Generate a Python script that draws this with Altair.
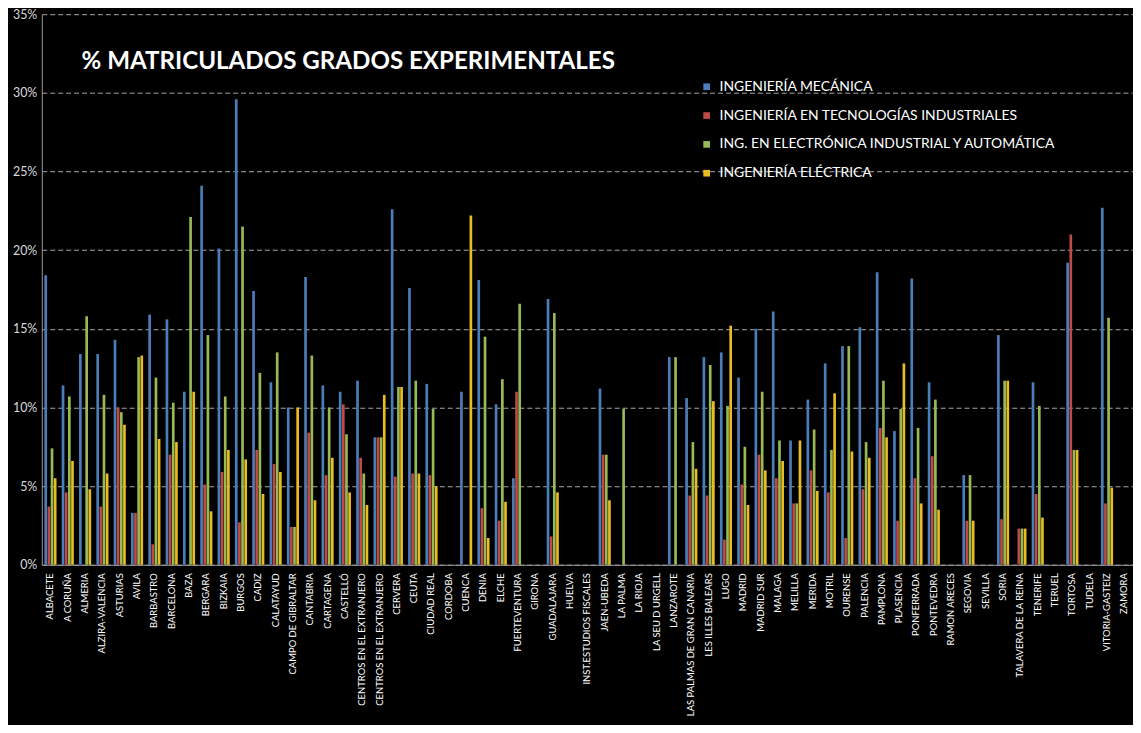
import json
import altair as alt
import pandas as pd

categories = [
    "ALBACETE", "A CORUÑA", "ALMERIA", "ALZIRA-VALENCIA", "ASTURIAS", "AVILA",
    "BARBASTRO", "BARCELONA", "BAZA", "BERGARA", "BIZKAIA", "BURGOS", "CADIZ",
    "CALATAYUD", "CAMPO DE GIBRALTAR", "CANTABRIA", "CARTAGENA", "CASTELLÓ",
    "CENTROS EN EL EXTRANJERO", "CENTROS EN EL EXTRANJERO", "CERVERA", "CEUTA",
    "CIUDAD REAL", "CORDOBA", "CUENCA", "DENIA", "ELCHE", "FUERTEVENTURA",
    "GIRONA", "GUADALAJARA", "HUELVA", "INST.ESTUDIOS FISCALES", "JAEN-UBEDA",
    "LA PALMA", "LA RIOJA", "LA SEU D URGELL", "LANZAROTE",
    "LAS PALMAS DE GRAN CANARIA", "LES ILLES  BALEARS", "LUGO", "MADRID",
    "MADRID SUR", "MALAGA", "MELILLA", "MERIDA", "MOTRIL", "OURENSE",
    "PALENCIA", "PAMPLONA", "PLASENCIA", "PONFERRADA", "PONTEVEDRA",
    "RAMON ARECES", "SEGOVIA", "SEVILLA", "SORIA", "TALAVERA DE LA REINA",
    "TENERIFE", "TERUEL", "TORTOSA", "TUDELA", "VITORIA-GASTEIZ", "ZAMORA",
]

series_names = [
    "INGENIERÍA MECÁNICA",
    "INGENIERÍA EN TECNOLOGÍAS INDUSTRIALES",
    "ING. EN  ELECTRÓNICA INDUSTRIAL Y AUTOMÁTICA",
    "INGENIERÍA ELÉCTRICA",
]

# values in percent
mecanica = [18.4, 11.4, 13.4, 13.4, 14.3, 3.3, 15.9, 15.6, 11.0, 24.1, 20.1, 29.6, 17.4,
            11.6, 10.0, 18.3, 11.4, 11.0, 11.7, 8.1, 22.6, 17.6, 11.5, 0, 11.0, 18.1,
            10.2, 5.5, 0, 16.9, 0, 0, 11.2, 0, 0, 0, 13.2, 10.6, 13.2, 13.5, 11.9,
            15.0, 16.1, 7.9, 10.5, 12.8, 13.9, 15.1, 18.6, 8.5, 18.2, 11.6, 0, 5.7,
            0, 14.6, 0, 11.6, 0, 19.2, 0, 22.7, 0]
tecnologias = [3.7, 4.6, 0, 3.7, 10.0, 3.3, 1.3, 7.0, 0, 5.1, 5.9, 2.7, 7.3,
               6.4, 2.4, 8.4, 5.7, 10.2, 6.8, 8.1, 5.6, 5.8, 5.7, 0, 0, 3.6,
               2.8, 11.0, 0, 1.8, 0, 0, 7.0, 0, 0, 0, 0, 4.4, 4.4, 1.6, 5.1,
               7.0, 5.5, 3.9, 6.0, 4.6, 1.7, 4.8, 8.7, 2.8, 5.5, 6.9, 0, 2.8,
               0, 2.9, 2.3, 4.5, 0, 21.0, 0, 3.9, 0]
electronica = [7.4, 10.7, 15.8, 10.8, 9.7, 13.2, 11.9, 10.3, 22.1, 14.6, 10.7, 21.5, 12.2,
               13.5, 2.4, 13.3, 10.0, 8.3, 5.8, 8.1, 11.3, 11.7, 9.9, 0, 0, 14.5,
               11.8, 16.6, 0, 16.0, 0, 0, 7.0, 9.9, 0, 0, 13.2, 7.8, 12.7, 10.1, 7.5,
               11.0, 7.9, 3.9, 8.6, 7.3, 13.9, 7.8, 11.7, 9.9, 8.7, 10.5, 0, 5.7,
               0, 11.7, 2.3, 10.1, 0, 7.3, 0, 15.7, 0]
electrica = [5.5, 6.6, 4.8, 5.8, 8.9, 13.3, 8.0, 7.8, 11.0, 3.4, 7.3, 6.7, 4.5,
             5.9, 10.0, 4.1, 6.8, 4.6, 3.8, 10.8, 11.3, 5.8, 5.0, 0, 22.2, 1.7,
             4.0, 0, 0, 4.6, 0, 0, 4.1, 0, 0, 0, 0, 6.1, 10.4, 15.2, 3.8,
             6.0, 6.6, 7.9, 4.7, 10.9, 7.2, 6.8, 8.1, 12.8, 3.9, 3.5, 0, 2.8,
             0, 11.7, 2.3, 3.0, 0, 7.3, 0, 4.9, 0]

y_ticks = [0, 0.05, 0.10, 0.15, 0.20, 0.25, 0.30, 0.35]
colors = ["#4A7EBB", "#BE4B48", "#98B954", "#E8BC22"]

rows = []
for i, cat in enumerate(categories):
    for s, vals in zip(series_names, [mecanica, tecnologias, electronica, electrica]):
        rows.append({"idx": i, "cat": cat, "serie": s, "valor": vals[i] / 100.0})
df = pd.DataFrame(rows)

label_expr = "[" + ",".join(json.dumps(c) for c in categories) + "][datum.value]"

chart = alt.Chart(df).mark_bar().encode(
    x=alt.X(
        "idx:O",
        scale=alt.Scale(paddingInner=0.3, paddingOuter=0.15),
        axis=alt.Axis(
            labelExpr=label_expr, labelAngle=270, title=None, ticks=False,
            labelColor="white", labelFont="Lato", labelFontSize=9.5,
            labelPadding=8, domainColor="#9a9a9a", labelLimit=0,
        ),
    ),
    xOffset=alt.XOffset("serie:N", sort=series_names,
                        scale=alt.Scale(paddingInner=0.15)),
    y=alt.Y(
        "valor:Q",
        scale=alt.Scale(domain=[0, 0.35], nice=False),
        axis=alt.Axis(
            format=".0%", values=y_ticks, title=None, ticks=False,
            grid=True, gridDash=[5, 3], gridColor="#a8a8a8", gridWidth=1,
            labelColor="#d8d8d8", labelFont="Lato", labelFontSize=12.5,
            labelPadding=5, domainColor="#9a9a9a",
        ),
    ),
    color=alt.Color(
        "serie:N", sort=series_names,
        scale=alt.Scale(domain=series_names, range=colors),
        legend=alt.Legend(
            title=None, orient="none", legendX=662, legendY=66,
            symbolType="square", symbolSize=45, symbolStrokeWidth=0,
            labelColor="white", labelFont="Lato", labelFontSize=14,
            labelLimit=0, rowPadding=15, labelOffset=6,
        ),
    ),
).properties(
    width=1098,
    height=554,
    padding={"left": 34, "top": 4, "right": 0, "bottom": 159},
    autosize=alt.AutoSizeParams(type="none"),
    title=alt.TitleParams(
        "% MATRICULADOS GRADOS EXPERIMENTALES",
        anchor="start", frame="group", dx=40, dy=70,
        color="white", font="Lato", fontSize=24.3, fontWeight="bold",
    ),
).configure(
    background="black",
).configure_view(
    stroke=None,
)

chart.save("out.html", embed_options={"renderer": "svg", "actions": False})
